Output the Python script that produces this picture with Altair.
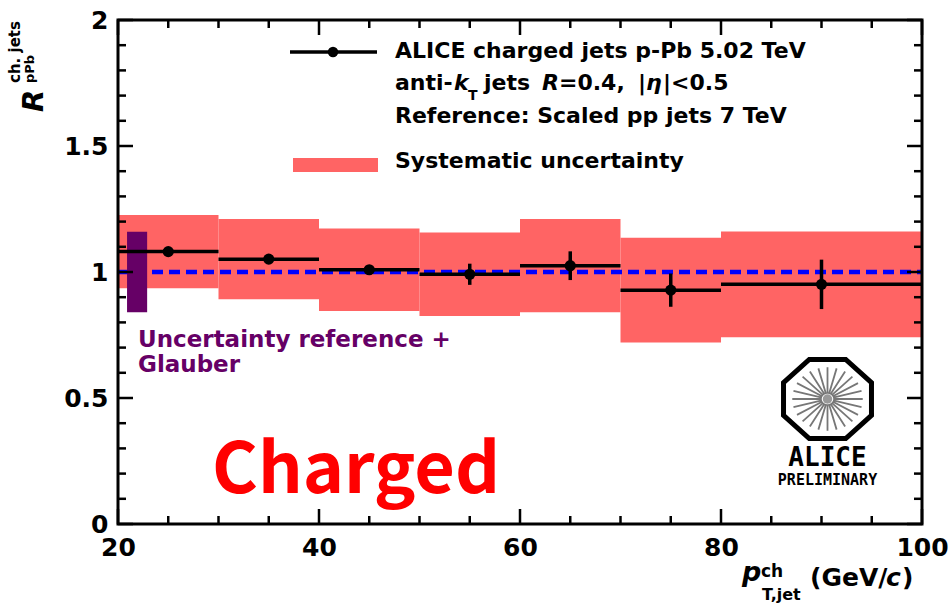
import math
import altair as alt
import pandas as pd

# ---- measured R_pPb of charged jets, p-Pb 5.02 TeV ----
bin_lo = [20, 30, 40, 50, 60, 70, 80]
bin_hi = [30, 40, 50, 60, 70, 80, 100]
pt_center = [25, 35, 45, 55, 65, 75, 90]
ratio = [1.081, 1.051, 1.009, 0.991, 1.025, 0.928, 0.951]
stat_err = [0.012, 0.012, 0.016, 0.042, 0.057, 0.066, 0.098]
sys_err = [0.145, 0.159, 0.164, 0.166, 0.185, 0.208, 0.210]

# normalisation uncertainty (reference + Glauber) drawn at unity
norm_box_x = [20.9, 22.9]
norm_unc = 0.16

# axis ticks
x_major = [20, 40, 60, 80, 100]
x_minor = [25, 30, 35, 45, 50, 55, 65, 70, 75, 85, 90, 95]
y_major = [0, 0.5, 1, 1.5, 2]
y_minor = [0.1, 0.2, 0.3, 0.4, 0.6, 0.7, 0.8, 0.9, 1.1, 1.2, 1.3, 1.4,
           1.6, 1.7, 1.8, 1.9]

W, H = 804, 504
FONT = "DejaVu Sans"
BAND = "#ff6464"
PURPLE = "#660066"

df = pd.DataFrame({"lo": bin_lo, "hi": bin_hi, "pt": pt_center, "r": ratio,
                   "stat": stat_err, "sys": sys_err})
df["sys_lo"] = df["r"] - df["sys"]
df["sys_hi"] = df["r"] + df["sys"]
df["stat_lo"] = df["r"] - df["stat"]
df["stat_hi"] = df["r"] + df["stat"]

ref = pd.DataFrame({"x0": [20], "x1": [100], "y": [1.0]})
norm = pd.DataFrame({"x0": [norm_box_x[0]], "x1": [norm_box_x[1]],
                     "y0": [1 - norm_unc], "y1": [1 + norm_unc]})
one = pd.DataFrame({"k": [0]})

xs = alt.Scale(domain=[20, 100], nice=False, zero=False)
ys = alt.Scale(domain=[0, 2], nice=False, zero=False)
x_axis = alt.Axis(values=x_major, ticks=False, domain=False, grid=False,
                  labelFont=FONT, labelFontWeight="bold", labelFontSize=25,
                  labelColor="black", labelPadding=11, labelFlush=False,
                  labelOverlap=False, title=None)
y_axis = alt.Axis(values=y_major, format="~g", ticks=False, domain=False,
                  grid=False, labelFont=FONT, labelFontWeight="bold",
                  labelFontSize=25, labelColor="black", labelPadding=10,
                  labelFlush=False, labelOverlap=False, title=None)


def X(f):
    return alt.X(f, type="quantitative", scale=xs, axis=x_axis)


def Y(f):
    return alt.Y(f, type="quantitative", scale=ys, axis=y_axis)


layers = []

# systematic uncertainty boxes
layers.append(alt.Chart(df).mark_rect(color=BAND).encode(
    x=X("lo"), x2="hi", y=Y("sys_lo"), y2="sys_hi"))

# unity reference line
layers.append(alt.Chart(ref).mark_rule(color="#0000ff", strokeWidth=4.5,
                                       strokeDash=[11, 6]).encode(
    x=X("x0"), x2="x1", y=Y("y")))

# normalisation uncertainty box
layers.append(alt.Chart(norm).mark_rect(color=PURPLE).encode(
    x=X("x0"), x2="x1", y=Y("y0"), y2="y1"))

# bin-width bars, statistical bars and markers
layers.append(alt.Chart(df).mark_rule(color="black", strokeWidth=3.5).encode(
    x=X("lo"), x2="hi", y=Y("r")))
layers.append(alt.Chart(df).mark_rule(color="black", strokeWidth=3.5).encode(
    x=X("pt"), y=Y("stat_lo"), y2="stat_hi"))
layers.append(alt.Chart(df).mark_circle(color="black", opacity=1, size=125).encode(
    x=X("pt"), y=Y("r")))

# frame with inward ticks on all four sides
layers.append(alt.Chart(one).mark_rect(filled=False, stroke="black", strokeWidth=3).encode(
    x=alt.value(0), x2=alt.value(W), y=alt.value(0), y2=alt.value(H)))
for vals, ln in ((x_major, 15), (x_minor, 8)):
    d = pd.DataFrame({"v": vals})
    layers.append(alt.Chart(d).mark_rule(color="black", strokeWidth=2.5).encode(
        x=X("v"), y=alt.value(H), y2=alt.value(H - ln)))
    layers.append(alt.Chart(d).mark_rule(color="black", strokeWidth=2.5).encode(
        x=X("v"), y=alt.value(0), y2=alt.value(ln)))
for vals, ln in ((y_major, 15), (y_minor, 8)):
    d = pd.DataFrame({"v": vals})
    layers.append(alt.Chart(d).mark_rule(color="black", strokeWidth=2.5).encode(
        y=Y("v"), x=alt.value(0), x2=alt.value(ln)))
    layers.append(alt.Chart(d).mark_rule(color="black", strokeWidth=2.5).encode(
        y=Y("v"), x=alt.value(W), x2=alt.value(W - ln)))


def label(text, x, y, size, color="black", weight="bold", style="normal",
          font=FONT, angle=0, align="left"):
    return alt.Chart(one).mark_text(
        text=text, font=font, fontSize=size, fontWeight=weight,
        fontStyle=style, color=color, align=align, baseline="alphabetic",
        angle=angle).encode(x=alt.value(x), y=alt.value(y))


# legend
layers.append(alt.Chart(one).mark_rule(color="black", strokeWidth=3.5).encode(
    x=alt.value(172), x2=alt.value(259), y=alt.value(32)))
layers.append(alt.Chart(one).mark_circle(color="black", opacity=1, size=110).encode(
    x=alt.value(215), y=alt.value(32)))
layers.append(alt.Chart(one).mark_rect(color=BAND).encode(
    x=alt.value(175), x2=alt.value(260), y=alt.value(138), y2=alt.value(152)))
layers += [
    label("ALICE charged jets p-Pb 5.02 TeV", 277, 38, 22),
    label("anti-", 277, 70, 22),
    label("k", 336, 70, 22, style="italic"),
    label("T", 350, 80, 14),
    label("jets", 366, 70, 22),
    label("R", 424, 70, 22, style="italic"),
    label("=0.4,", 441, 70, 22),
    label("|", 520, 70, 22),
    label("η", 528, 70, 22, style="italic"),
    label("|<0.5", 545, 70, 22),
    label("Reference: Scaled pp jets 7 TeV", 277, 103, 22),
    label("Systematic uncertainty", 277, 148, 22),
]

# annotations
layers += [
    label("Uncertainty reference +", 20, 327, 23, color=PURPLE),
    label("Glauber", 20, 352, 23, color=PURPLE),
    label("Charged", 94, 473, 70, color="#ff0000", font="Noto Sans CJK JP"),
]

# y-axis title
layers += [
    label("R", -75, 92, 29, style="italic", angle=270),
    label("ch. jets", -98, 63, 15, angle=270),
    label("pPb", -84, 63, 13, angle=270),
]

# x-axis title
layers += [
    label("p", 624, 561, 27, style="italic"),
    label("ch", 643, 557, 17),
    label("T,jet", 644, 580, 16),
    label("(GeV/", 692, 566, 25),
    label("c", 768, 566, 25, style="italic"),
    label(")", 784, 566, 25),
]

# ALICE logo: octagon with radial spokes
oct_path = " ".join(
    ("M" if k == 0 else "L")
    + f"{math.cos(math.radians(22.5 + 45 * k)):.4f},{0.9 * math.sin(math.radians(22.5 + 45 * k)):.4f}"
    for k in range(8)) + " Z"
spoke_path = " ".join(
    f"M{0.12 * math.cos(math.radians(15 * k)):.4f},{0.9 * 0.12 * math.sin(math.radians(15 * k)):.4f}"
    f" L{0.74 * math.cos(math.radians(15 * k)):.4f},{0.9 * 0.74 * math.sin(math.radians(15 * k)):.4f}"
    for k in range(24))
LX, LY = 709.5, 379
layers.append(alt.Chart(one).mark_point(shape=spoke_path, size=9063, filled=False,
                                        stroke="#777777", strokeWidth=1.8, opacity=1).encode(
    x=alt.value(LX), y=alt.value(LY)))
layers.append(alt.Chart(one).mark_circle(color="#999999", opacity=1, size=90).encode(
    x=alt.value(LX), y=alt.value(LY)))
layers.append(alt.Chart(one).mark_point(shape=oct_path, size=9063, filled=False,
                                        stroke="black", strokeWidth=5, opacity=1).encode(
    x=alt.value(LX), y=alt.value(LY)))
layers += [
    label("ALICE", LX, 446, 26, font="DejaVu Sans Mono", align="center"),
    label("PRELIMINARY", LX, 465, 15, font="DejaVu Sans Mono", align="center"),
]

chart = alt.layer(*layers).properties(
    width=W, height=H,
    padding={"left": 118, "top": 20, "right": 27, "bottom": 81},
    autosize=alt.AutoSizeParams(type="none"),
).configure_view(stroke=None).configure(background="white")

chart.save("out.html", embed_options={"renderer": "svg", "actions": False})
